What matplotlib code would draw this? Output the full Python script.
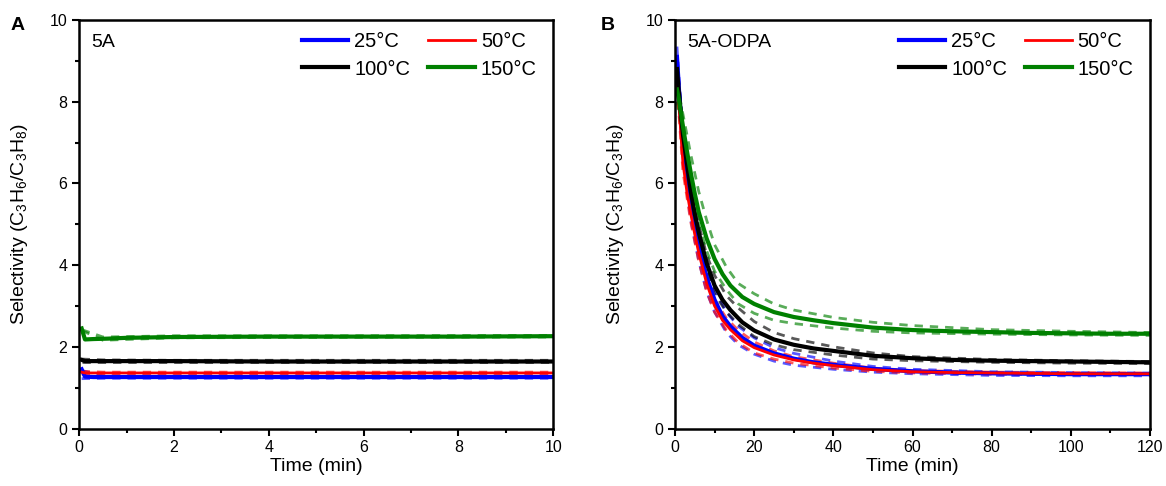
import matplotlib
matplotlib.use("Agg")
import matplotlib.pyplot as plt
from matplotlib.ticker import MultipleLocator

plt.rcParams['font.family'] = ['Liberation Sans', 'DejaVu Sans']
plt.rcParams['mathtext.fontset'] = 'custom'
plt.rcParams['mathtext.rm'] = 'Liberation Sans'
plt.rcParams['mathtext.default'] = 'regular'

labels = ['25°C', '50°C', '100°C', '150°C']
colors = ['#0000ff', '#ff0000', '#000000', '#008000']

# ---- Panel A: 5A (0-10 min) ----
t_a = [0.05, 0.12, 0.3, 0.6, 1, 2, 4, 6, 8, 10]
a_25 = [1.45, 1.27, 1.26, 1.26, 1.26, 1.26, 1.26, 1.26, 1.26, 1.26]
a_50 = [1.38, 1.36, 1.36, 1.36, 1.36, 1.36, 1.36, 1.36, 1.36, 1.36]
a_100 = [1.68, 1.65, 1.65, 1.65, 1.65, 1.65, 1.64, 1.64, 1.64, 1.64]
a_150 = [2.45, 2.18, 2.19, 2.20, 2.22, 2.24, 2.25, 2.25, 2.25, 2.26]

t_a_band = [0.05, 0.5, 2, 5, 10]
a_25_hi = [1.42, 1.29, 1.29, 1.29, 1.29]
a_25_lo = [1.22, 1.23, 1.23, 1.23, 1.23]
a_50_hi = [1.40, 1.38, 1.38, 1.38, 1.38]
a_50_lo = [1.33, 1.34, 1.34, 1.34, 1.34]
a_100_hi = [1.70, 1.68, 1.67, 1.67, 1.67]
a_100_lo = [1.62, 1.62, 1.62, 1.62, 1.62]
a_150_hi = [2.42, 2.24, 2.27, 2.27, 2.28]
a_150_lo = [2.40, 2.16, 2.22, 2.23, 2.24]

# ---- Panel B: 5A-ODPA (0-120 min) ----
t_b = [0.5, 1, 2, 3, 4, 5, 6, 8, 10, 12, 14, 17, 20, 25, 30, 35, 40,
       50, 60, 70, 80, 90, 100, 110, 120]
b_25 = [9.1, 8.3, 6.9, 6.1, 5.45, 4.95, 4.5, 3.7, 3.15, 2.75, 2.5, 2.22, 2.03,
        1.84, 1.71, 1.62, 1.56, 1.46, 1.40, 1.37, 1.35, 1.34, 1.33, 1.33, 1.33]
b_50 = [8.6, 7.9, 6.5, 5.8, 5.25, 4.75, 4.3, 3.55, 3.0, 2.65, 2.42, 2.15, 1.98,
        1.80, 1.68, 1.60, 1.54, 1.44, 1.39, 1.37, 1.36, 1.35, 1.34, 1.34, 1.34]
b_100 = [8.8, 8.2, 7.2, 6.5, 5.8, 5.25, 4.8, 4.05, 3.5, 3.15, 2.9, 2.6, 2.4,
         2.18, 2.05, 1.96, 1.90, 1.78, 1.72, 1.68, 1.66, 1.65, 1.64, 1.63, 1.62]
b_150 = [8.3, 8.05, 7.4, 6.8, 6.25, 5.75, 5.3, 4.65, 4.15, 3.78, 3.5, 3.22, 3.05,
         2.85, 2.73, 2.65, 2.58, 2.47, 2.41, 2.38, 2.36, 2.34, 2.33, 2.32, 2.32]

t_b_band = [0.5, 2, 4, 6, 8, 10, 13, 16, 20, 25, 30, 40, 50, 60, 80, 100, 120]
b_25_hi = [9.35, 7.1, 5.7, 4.75, 3.95, 3.4, 2.85, 2.5, 2.22, 1.98, 1.84, 1.65,
           1.52, 1.45, 1.39, 1.37, 1.36]
b_25_lo = [8.8, 6.6, 5.1, 4.1, 3.35, 2.85, 2.35, 2.05, 1.82, 1.65, 1.55, 1.45,
           1.38, 1.34, 1.30, 1.29, 1.29]
b_50_hi = [8.7, 6.7, 5.4, 4.45, 3.7, 3.15, 2.7, 2.4, 2.12, 1.9, 1.76, 1.6,
           1.48, 1.42, 1.38, 1.37, 1.36]
b_50_lo = [8.4, 6.3, 5.05, 4.1, 3.35, 2.85, 2.4, 2.1, 1.85, 1.7, 1.6, 1.48,
           1.40, 1.36, 1.33, 1.32, 1.32]
b_100_hi = [9.0, 7.4, 6.0, 5.0, 4.25, 3.75, 3.25, 2.95, 2.62, 2.35, 2.2, 2.0,
            1.85, 1.76, 1.69, 1.66, 1.64]
b_100_lo = [8.6, 7.0, 5.6, 4.6, 3.85, 3.3, 2.85, 2.55, 2.25, 2.05, 1.93, 1.8,
            1.70, 1.66, 1.62, 1.60, 1.59]
b_150_hi = [8.5, 7.7, 6.7, 5.8, 5.1, 4.5, 3.95, 3.55, 3.3, 3.05, 2.9, 2.72,
            2.6, 2.52, 2.42, 2.38, 2.35]
b_150_lo = [8.0, 7.1, 5.9, 5.0, 4.35, 3.85, 3.4, 3.05, 2.82, 2.65, 2.57, 2.46,
            2.38, 2.34, 2.31, 2.29, 2.28]

solid_lw = [3.0, 2.0, 3.0, 3.0]

fig = plt.figure(figsize=(11.66, 4.86), dpi=100)
ax_a = fig.add_axes([0.068, 0.1183, 0.4065, 0.8405])
ax_b = fig.add_axes([0.5789, 0.1183, 0.4074, 0.8405])

panels = [
    (ax_a, t_a, [a_25, a_50, a_100, a_150], t_a_band,
     [(a_25_lo, a_25_hi), (a_50_lo, a_50_hi), (a_100_lo, a_100_hi), (a_150_lo, a_150_hi)],
     10, 2, 1, '5A'),
    (ax_b, t_b, [b_25, b_50, b_100, b_150], t_b_band,
     [(b_25_lo, b_25_hi), (b_50_lo, b_50_hi), (b_100_lo, b_100_hi), (b_150_lo, b_150_hi)],
     120, 20, 10, '5A-ODPA'),
]

for ax, t, series, tb, bands, xmax, xmaj, xmin, name in panels:
    handles = []
    for i in range(4):
        lo, hi = bands[i]
        for b in (lo, hi):
            ax.plot(tb, b, color=colors[i], lw=2.0, ls=(0, (3, 2.5)), alpha=0.65)
    for i in range(4):
        h, = ax.plot(t, series[i], color=colors[i], lw=solid_lw[i], label=labels[i])
        handles.append(h)

    ax.set_xlim(0, xmax)
    ax.set_ylim(0, 10)
    ax.xaxis.set_major_locator(MultipleLocator(xmaj))
    ax.xaxis.set_minor_locator(MultipleLocator(xmin))
    ax.yaxis.set_major_locator(MultipleLocator(2))
    ax.yaxis.set_minor_locator(MultipleLocator(1))
    ax.tick_params(which='major', direction='out', length=5, width=1.5, labelsize=11.5)
    ax.tick_params(which='minor', direction='out', length=3, width=1.5)
    for sp in ax.spines.values():
        sp.set_linewidth(1.8)
    ax.set_xlabel('Time (min)', fontsize=14, labelpad=2)
    ax.set_ylabel('Selectivity (C$_3$H$_6$/C$_3$H$_8$)', fontsize=14, labelpad=14)
    ax.text(0.026, 0.965, name, transform=ax.transAxes, fontsize=14, va='top', ha='left')
    ax.legend([handles[0], handles[2], handles[1], handles[3]],
              [labels[0], labels[2], labels[1], labels[3]],
              ncol=2, frameon=False, fontsize=14.5, loc='upper right',
              bbox_to_anchor=(0.995, 1.005), handlelength=2.3, handletextpad=0.3,
              columnspacing=0.9, labelspacing=0.42, borderaxespad=0.3)

fig.text(0.009, 0.948, 'A', fontsize=14, fontweight='bold', va='center')
fig.text(0.515, 0.948, 'B', fontsize=14, fontweight='bold', va='center')

fig.savefig('out.png', dpi=100)
